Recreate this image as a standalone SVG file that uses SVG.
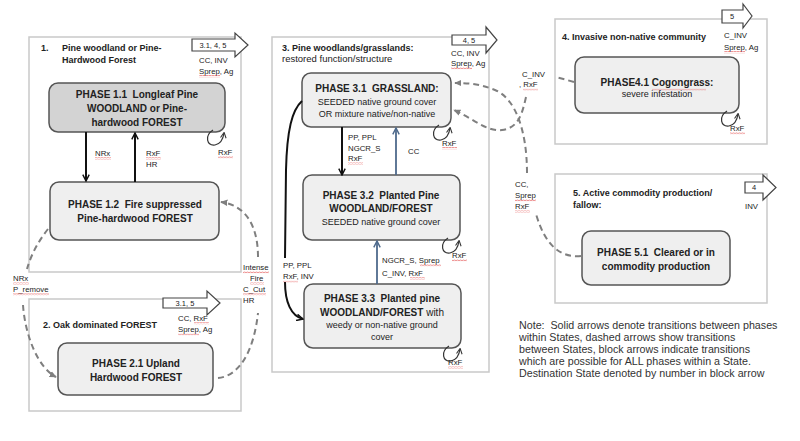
<svg xmlns="http://www.w3.org/2000/svg" width="800" height="441" viewBox="0 0 800 441" xml:space="preserve">
<style>
text{font-family:"Liberation Sans",Arial,sans-serif;fill:#222;white-space:pre}
.state{fill:#fff;stroke:#c9c9c9;stroke-width:1.5}
.phase{fill:#efefef;stroke:#555;stroke-width:1.5}
.dark{fill:#d3d3d3}
.ph{font-size:10px;font-weight:bold;text-anchor:middle}
.pn{font-size:9px;text-anchor:middle}
.st{font-size:9px;font-weight:bold}
.sr{font-size:9.5px}
.lb{font-size:7.8px}
.ba{font-size:7.5px;text-anchor:middle}
.note{font-size:10.7px;fill:#333}
.blk{fill:#fff;stroke:#444;stroke-width:1.2}
.solid{fill:none;stroke:#111;stroke-width:2}
.blue{fill:none;stroke:#4e6a8c;stroke-width:1.8}
.dash{fill:none;stroke:#7f7f7f;stroke-width:2;stroke-dasharray:6 4}
.loop{fill:none;stroke:#333;stroke-width:1.2}
.sq{fill:url(#sq)}
</style>
<defs>
<pattern id="sq" width="3" height="2.4" patternUnits="userSpaceOnUse"><path d="M0,1.8 L1.5,0.6 L3,1.8" stroke="#e03a3a" stroke-width="0.7" fill="none"/></pattern>
<marker id="ab" viewBox="0 0 10 10" refX="9" refY="5" markerWidth="8" markerHeight="8" orient="auto" markerUnits="userSpaceOnUse"><path d="M1,1 L9,5 L1,9" fill="none" stroke="#111" stroke-width="1.8"/></marker>
<marker id="abl" viewBox="0 0 10 10" refX="9" refY="5" markerWidth="8" markerHeight="8" orient="auto" markerUnits="userSpaceOnUse"><path d="M1,1 L9,5 L1,9" fill="none" stroke="#4e6a8c" stroke-width="1.8"/></marker>
<marker id="ad" viewBox="0 0 10 10" refX="8" refY="5" markerWidth="8" markerHeight="8" orient="auto" markerUnits="userSpaceOnUse"><path d="M0,1 L9,5 L0,9 z" fill="#7f7f7f"/></marker>
<marker id="al" viewBox="0 0 10 10" refX="8" refY="5" markerWidth="7" markerHeight="7" orient="auto" markerUnits="userSpaceOnUse"><path d="M1,1 L9,5 L1,9" fill="none" stroke="#333" stroke-width="1.5"/></marker>
</defs>
<rect width="800" height="441" fill="#fff"/>
<g id="state1">
<rect class="state" x="29" y="37" width="212" height="235"/>
<text class="st" x="41" y="51">1.</text>
<text class="st" x="62" y="51">Pine woodland or Pine-</text>
<text class="st" x="62" y="63">Hardwood Forest</text>
<polygon class="blk" points="192,39 235,39 235,33 248,45 235,57 235,51 192,51"/>
<text class="ba" x="213" y="48">3.1, 4, 5</text>
<text class="lb" x="199" y="63">CC, INV</text>
<text class="lb" x="199" y="74">Sprep, Ag</text>
<rect class="sq" x="199" y="75" width="21" height="2.4"/>
</g>
<g id="phase1_1">
<rect class="phase dark" x="49" y="83" width="176" height="49" rx="9"/>
<text class="ph" x="137" y="98">PHASE 1.1  Longleaf Pine</text>
<text class="ph" x="137" y="112">WOODLAND or Pine-</text>
<text class="ph" x="137" y="126">hardwood FOREST</text>
</g>
<g id="phase1_2">
<rect class="phase" x="50" y="182" width="169" height="58" rx="9"/>
<text class="ph" x="135" y="208">PHASE 1.2  Fire suppressed</text>
<text class="ph" x="135" y="222">Pine-hardwood FOREST</text>
</g>
<g id="state2">
<rect class="state" x="29" y="299" width="212" height="112"/>
<text class="st" x="43" y="328">2. Oak dominated FOREST</text>
<polygon class="blk" points="163,298 207,298 207,291 220,303 207,315 207,308 163,308"/>
<text class="ba" x="185" y="306">3.1, 5</text>
<text class="lb" x="178" y="321">CC, RxF</text>
<rect class="sq" x="194" y="322" width="15" height="2.4"/>
<text class="lb" x="178" y="332">Sprep, Ag</text>
<rect class="sq" x="178" y="333" width="21" height="2.4"/>
</g>
<g id="phase2_1">
<rect class="phase" x="58" y="343" width="155" height="52" rx="9"/>
<text class="ph" x="136" y="367">PHASE 2.1 Upland</text>
<text class="ph" x="136" y="381">Hardwood FOREST</text>
</g>
<g id="state3">
<rect class="state" x="272" y="37" width="217" height="335"/>
<text class="st" x="282" y="51">3. Pine woodlands/grasslands:</text>
<text class="sr" x="282" y="62">restored function/structure</text>
<polygon class="blk" points="452,35 486,35 486,27 497,40 486,53 486,45 452,45"/>
<text class="ba" x="469" y="43">4, 5</text>
<text class="lb" x="451" y="56">CC, INV</text>
<text class="lb" x="451" y="66">Sprep, Ag</text>
<rect class="sq" x="451" y="67" width="21" height="2.4"/>
</g>
<g id="phase3_1">
<rect class="phase" x="302" y="73" width="149" height="54" rx="9"/>
<text class="ph" x="377" y="92">PHASE 3.1  GRASSLAND:</text>
<text class="pn" x="377" y="105">SEEDED native ground cover</text>
<text class="pn" x="377" y="117">OR mixture native/non-native</text>
</g>
<g id="phase3_2">
<rect class="phase" x="303" y="175" width="157" height="65" rx="9"/>
<text class="ph" x="381" y="199">PHASE 3.2  Planted Pine</text>
<text class="ph" x="381" y="212">WOODLAND/FOREST</text>
<text class="pn" x="381" y="225">SEEDED native ground cover</text>
</g>
<g id="phase3_3">
<rect class="phase" x="304" y="284" width="157" height="64" rx="9"/>
<text class="ph" x="382" y="302">PHASE 3.3  Planted pine</text>
<text class="ph" x="382" y="316">WOODLAND/FOREST <tspan font-weight="normal">with</tspan></text>
<text class="pn" x="382" y="328">weedy or non-native ground</text>
<text class="pn" x="382" y="340">cover</text>
</g>
<g id="state4">
<rect class="state" x="555" y="19" width="212" height="125"/>
<text class="st" x="562" y="40">4. Invasive non-native community</text>
<polygon class="blk" points="722,10 743,10 743,4 752,16 743,28 743,23 722,23"/>
<text class="ba" x="732" y="19">5</text>
<text class="lb" x="724" y="38">C_INV</text>
<text class="lb" x="724" y="50">Sprep, Ag</text>
<rect class="sq" x="724" y="51" width="21" height="2.4"/>
</g>
<g id="phase4_1">
<rect class="phase" x="575" y="57" width="164" height="56" rx="9"/>
<text class="ph" x="657" y="86">PHASE4.1 Cogongrass:</text>
<rect class="sq" x="652" y="88" width="54" height="2.4"/>
<text class="pn" x="657" y="97">severe infestation</text>
</g>
<g id="state5">
<rect class="state" x="555" y="174" width="212" height="129"/>
<text class="st" x="573" y="196" font-size="10.5">5. Active commodity production/</text>
<text class="st" x="573" y="208" font-size="10.5">fallow:</text>
<polygon class="blk" points="745,182 763,182 763,175 776,187.5 763,200 763,193 745,193"/>
<text class="ba" x="754" y="190">4</text>
<text class="lb" x="745" y="209">INV</text>
</g>
<g id="phase5_1">
<rect class="phase" x="582" y="231" width="148" height="54" rx="9"/>
<text class="ph" x="656" y="256">PHASE 5.1  Cleared or in</text>
<text class="ph" x="656" y="270">commodity production</text>
</g>
<g id="connectors">
<line class="solid" x1="86" y1="132" x2="86" y2="181" marker-end="url(#ab)"/>
<line class="solid" x1="135" y1="182" x2="135" y2="133" marker-end="url(#ab)"/>
<line class="solid" x1="342" y1="127" x2="342" y2="175" marker-end="url(#ab)"/>
<line class="blue" x1="396" y1="175" x2="396" y2="128" marker-end="url(#abl)"/>
<line class="blue" x1="377" y1="284" x2="377" y2="241" marker-end="url(#abl)"/>
<path class="solid" stroke-width="1.6" d="M302,101 C292,110 287,130 286,170 L285,258"/>
<path class="solid" stroke-width="1.6" d="M285,282 C285,302 291,316 303,319" marker-end="url(#ab)"/>
<path class="loop" d="M213,130 C204,136 207,146 215,145 C220,144 223,140 224,133" marker-end="url(#al)"/>
<path class="loop" d="M439,125 C430,131 433,141 441,140 C446,139 449,135 450,128" marker-end="url(#al)"/>
<path class="loop" d="M448,238 C439,244 442,254 450,253 C455,252 458,248 459,241" marker-end="url(#al)"/>
<path class="loop" d="M449,346 C440,352 443,362 451,361 C456,360 459,356 460,349" marker-end="url(#al)"/>
<path class="loop" d="M727,111 C718,117 721,127 729,126 C734,125 737,121 738,114" marker-end="url(#al)"/>
<path class="dash" d="M48,229 Q33,248 27,269"/>
<path class="dash" d="M23,305 C25,335 38,368 56,377" marker-end="url(#ad)"/>
<path class="dash" d="M218,378 C240,376 254,350 258,313"/>
<path class="dash" d="M258,257 C258,225 245,205 221,202" marker-end="url(#ad)"/>
<path class="dash" d="M574,82 L556,77"/>
<path class="dash" d="M526,97 C522,115 518,128 502,130 C487,132 472,118 454,110" marker-end="url(#ad)"/>
<path class="dash" d="M581,256 C560,258 545,245 536,214"/>
<path class="dash" d="M527,173 C527,130 515,98 495,90 C480,84 470,83 455,83" marker-end="url(#ad)"/>
</g>
<g id="labels">
<text class="lb" x="95" y="156">NRx</text>
<rect class="sq" x="95" y="157" width="16" height="2.4"/>
<text class="lb" x="146" y="156">RxF</text>
<rect class="sq" x="146" y="157" width="15" height="2.4"/>
<text class="lb" x="146" y="167">HR</text>
<text class="lb" x="218" y="155">RxF</text>
<rect class="sq" x="218" y="156" width="15" height="2.4"/>
<text class="lb" x="13" y="281">NRx</text>
<rect class="sq" x="13" y="282" width="16" height="2.4"/>
<text class="lb" x="13" y="292">P_remove</text>
<rect class="sq" x="13" y="293" width="36" height="2.4"/>
<text class="lb" x="243" y="270">Intense</text>
<rect class="sq" x="243" y="271" width="26" height="2.4"/>
<text class="lb" x="250" y="281">Fire</text>
<rect class="sq" x="250" y="282" width="14" height="2.4"/>
<text class="lb" x="243" y="292">C_Cut</text>
<rect class="sq" x="243" y="293" width="23" height="2.4"/>
<text class="lb" x="243" y="303">HR</text>
<text class="lb" x="348" y="140">PP, PPL</text>
<text class="lb" x="348" y="151">NGCR_S</text>
<text class="lb" x="348" y="161">RxF</text>
<rect class="sq" x="348" y="162" width="15" height="2.4"/>
<text class="lb" x="408" y="154">CC</text>
<text class="lb" x="442" y="146">RxF</text>
<rect class="sq" x="442" y="147" width="15" height="2.4"/>
<text class="lb" x="283" y="268">PP, PPL</text>
<text class="lb" x="283" y="279">RxF, INV</text>
<rect class="sq" x="283" y="280" width="15" height="2.4"/>
<text class="lb" x="382" y="263">NGCR_S, Sprep</text>
<rect class="sq" x="420" y="264" width="21" height="2.4"/>
<text class="lb" x="382" y="276">C_INV, RxF</text>
<rect class="sq" x="410" y="277" width="15" height="2.4"/>
<text class="lb" x="452" y="258">RxF</text>
<rect class="sq" x="452" y="259" width="15" height="2.4"/>
<text class="lb" x="448" y="365">RxF</text>
<rect class="sq" x="448" y="366" width="15" height="2.4"/>
<text class="lb" x="522" y="77">C_INV</text>
<text class="lb" x="519" y="87">, RxF</text>
<rect class="sq" x="523" y="88" width="15" height="2.4"/>
<text class="lb" x="515" y="187">CC,</text>
<text class="lb" x="515" y="198">Sprep</text>
<rect class="sq" x="515" y="199" width="21" height="2.4"/>
<text class="lb" x="515" y="209">RxF</text>
<rect class="sq" x="515" y="210" width="15" height="2.4"/>
<text class="lb" x="730" y="131">RxF</text>
<rect class="sq" x="730" y="132" width="15" height="2.4"/>
</g>
<g id="note">
<text class="note" x="519" y="329">Note:  Solid arrows denote transitions between phases</text>
<text class="note" x="519" y="341">within States, dashed arrows show transitions</text>
<text class="note" x="519" y="353">between States, block arrows indicate transitions</text>
<text class="note" x="519" y="365">which are possible for ALL phases within a State.</text>
<text class="note" x="519" y="377">Destination State denoted by number in block arrow</text>
</g>
</svg>
